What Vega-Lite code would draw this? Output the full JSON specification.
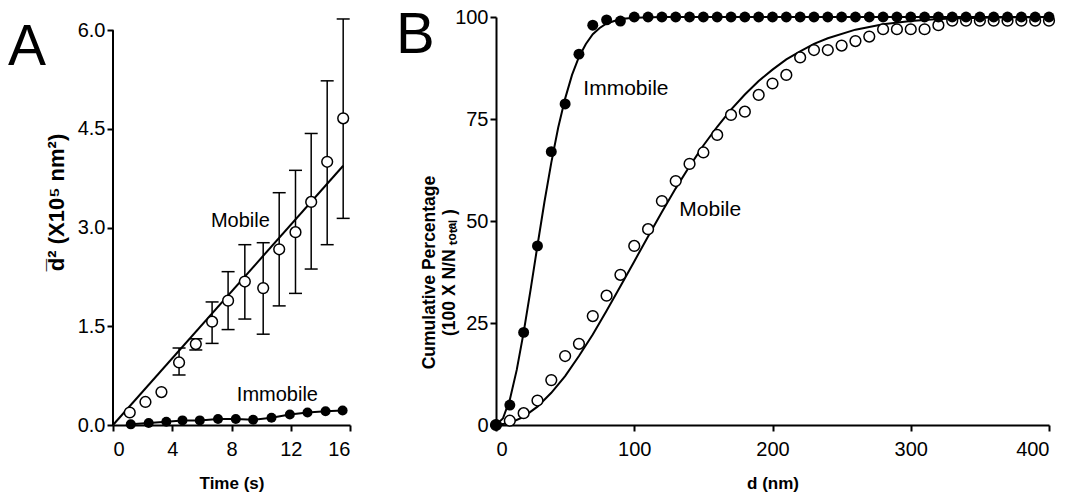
{
  "$schema": "https://vega.github.io/schema/vega-lite/v6.json",
  "background": "white",
  "padding": {"left": 8, "top": 7, "right": 10, "bottom": 5},
  "config": {
    "view": {"stroke": null},
    "font": "Liberation Sans",
    "axis": {"grid": false, "domainColor": "black", "domainWidth": 2, "tickColor": "black", "tickWidth": 2, "tickSize": 6, "labelFont": "Liberation Sans", "labelFontSize": 20, "labelColor": "black", "titleColor": "black", "titleFont": "Liberation Sans", "titleFontWeight": "bold", "labelPadding": 2},
    "text": {"font": "Liberation Sans", "fontSize": 20, "color": "black"},
    "title": {"font": "Liberation Sans", "color": "black"}
  },
  "datasets": {
    "a_axis": [{"t": 0, "v": 0, "v2": 6}],
    "a_mob": [
      {"t": 1.13, "v": 0.19, "lo": null, "hi": null},
      {"t": 2.19, "v": 0.35, "lo": null, "hi": null},
      {"t": 3.27, "v": 0.50, "lo": null, "hi": null},
      {"t": 4.46, "v": 0.95, "lo": 0.76, "hi": 1.17},
      {"t": 5.59, "v": 1.23, "lo": 1.14, "hi": 1.31},
      {"t": 6.69, "v": 1.57, "lo": 1.24, "hi": 1.87},
      {"t": 7.77, "v": 1.89, "lo": 1.45, "hi": 2.33},
      {"t": 8.90, "v": 2.18, "lo": 1.61, "hi": 2.74},
      {"t": 10.14, "v": 2.08, "lo": 1.38, "hi": 2.77},
      {"t": 11.22, "v": 2.67, "lo": 1.81, "hi": 3.53},
      {"t": 12.32, "v": 2.93, "lo": 2.00, "hi": 3.87},
      {"t": 13.38, "v": 3.39, "lo": 2.37, "hi": 4.43},
      {"t": 14.46, "v": 4.00, "lo": 2.74, "hi": 5.23},
      {"t": 15.54, "v": 4.66, "lo": 3.14, "hi": 6.17}
    ],
    "a_imm": [
      {"t": 1.20, "v": 0.01}, {"t": 2.41, "v": 0.03}, {"t": 3.60, "v": 0.05}, {"t": 4.69, "v": 0.07},
      {"t": 5.86, "v": 0.07}, {"t": 7.09, "v": 0.09}, {"t": 8.29, "v": 0.09}, {"t": 9.46, "v": 0.08},
      {"t": 10.70, "v": 0.11}, {"t": 11.94, "v": 0.16}, {"t": 13.13, "v": 0.19}, {"t": 14.35, "v": 0.21},
      {"t": 15.50, "v": 0.22}
    ],
    "a_fit": [{"t": 0, "v": 0}, {"t": 15.54, "v": 3.94}],
    "a_lab": [{"t": 8.6, "v": 3.10, "label": "Mobile"}, {"t": 11.1, "v": 0.46, "label": "Immobile"}],
    "b_mob": [
      {"d": 0, "p": 0}, {"d": 10, "p": 1.05}, {"d": 20, "p": 2.9}, {"d": 30, "p": 6.0}, {"d": 40, "p": 11.0},
      {"d": 50, "p": 16.9}, {"d": 60, "p": 19.9}, {"d": 70, "p": 26.7}, {"d": 80, "p": 31.7}, {"d": 90, "p": 36.8},
      {"d": 100, "p": 43.9}, {"d": 110, "p": 48.0}, {"d": 120, "p": 54.9}, {"d": 130, "p": 59.8}, {"d": 140, "p": 64.0},
      {"d": 150, "p": 66.8}, {"d": 160, "p": 71.1}, {"d": 170, "p": 76.0}, {"d": 180, "p": 76.8}, {"d": 190, "p": 80.9},
      {"d": 200, "p": 83.7}, {"d": 210, "p": 85.8}, {"d": 220, "p": 90.1}, {"d": 230, "p": 91.9}, {"d": 240, "p": 91.9},
      {"d": 250, "p": 93.0}, {"d": 260, "p": 94.1}, {"d": 270, "p": 95.2}, {"d": 280, "p": 97.0}, {"d": 290, "p": 97.0},
      {"d": 300, "p": 97.0}, {"d": 310, "p": 97.0}, {"d": 320, "p": 98.0}, {"d": 330, "p": 99.1}, {"d": 340, "p": 99.1},
      {"d": 350, "p": 99.1}, {"d": 360, "p": 99.1}, {"d": 370, "p": 99.1}, {"d": 380, "p": 99.1}, {"d": 390, "p": 99.1},
      {"d": 400, "p": 99.1}
    ],
    "b_imm": [
      {"d": 0, "p": 0}, {"d": 10, "p": 4.9}, {"d": 20, "p": 22.7}, {"d": 30, "p": 43.9}, {"d": 40, "p": 67.0},
      {"d": 50, "p": 78.7}, {"d": 60, "p": 90.9}, {"d": 70, "p": 98.0}, {"d": 80, "p": 99.3}, {"d": 90, "p": 99.0},
      {"d": 100, "p": 100}, {"d": 110, "p": 100}, {"d": 120, "p": 100}, {"d": 130, "p": 100}, {"d": 140, "p": 100},
      {"d": 150, "p": 100}, {"d": 160, "p": 100}, {"d": 170, "p": 100}, {"d": 180, "p": 100}, {"d": 190, "p": 100},
      {"d": 200, "p": 100}, {"d": 210, "p": 100}, {"d": 220, "p": 100}, {"d": 230, "p": 100}, {"d": 240, "p": 100},
      {"d": 250, "p": 100}, {"d": 260, "p": 100}, {"d": 270, "p": 100}, {"d": 280, "p": 100}, {"d": 290, "p": 100},
      {"d": 300, "p": 100}, {"d": 310, "p": 100}, {"d": 320, "p": 100}, {"d": 330, "p": 100}, {"d": 340, "p": 100},
      {"d": 350, "p": 100}, {"d": 360, "p": 100}, {"d": 370, "p": 100}, {"d": 380, "p": 100}, {"d": 390, "p": 100},
      {"d": 400, "p": 100}
    ],
    "b_mob_fit": [
      {"d": 0, "p": 0}, {"d": 10, "p": 0.5}, {"d": 20, "p": 2.0}, {"d": 30, "p": 4.5}, {"d": 40, "p": 7.9},
      {"d": 50, "p": 12.0}, {"d": 60, "p": 16.9}, {"d": 70, "p": 22.2}, {"d": 80, "p": 28.0}, {"d": 90, "p": 34.0},
      {"d": 100, "p": 40.1}, {"d": 110, "p": 46.2}, {"d": 120, "p": 52.2}, {"d": 130, "p": 58.0}, {"d": 140, "p": 63.4},
      {"d": 150, "p": 68.5}, {"d": 160, "p": 73.1}, {"d": 170, "p": 77.3}, {"d": 180, "p": 81.0}, {"d": 190, "p": 84.3},
      {"d": 200, "p": 87.1}, {"d": 210, "p": 89.6}, {"d": 220, "p": 91.6}, {"d": 230, "p": 93.4}, {"d": 240, "p": 94.8},
      {"d": 260, "p": 96.9}, {"d": 280, "p": 98.2}, {"d": 300, "p": 99.0}, {"d": 320, "p": 99.5}, {"d": 350, "p": 99.8},
      {"d": 400, "p": 100}
    ],
    "b_imm_fit": [
      {"d": 0, "p": 0}, {"d": 5, "p": 1.6}, {"d": 10, "p": 6.2}, {"d": 15, "p": 13.5}, {"d": 20, "p": 22.7},
      {"d": 25, "p": 33.1}, {"d": 30, "p": 44.0}, {"d": 35, "p": 54.6}, {"d": 40, "p": 64.3}, {"d": 45, "p": 72.9},
      {"d": 50, "p": 80.0}, {"d": 55, "p": 85.8}, {"d": 60, "p": 90.2}, {"d": 65, "p": 93.4}, {"d": 70, "p": 95.8},
      {"d": 75, "p": 97.3}, {"d": 80, "p": 98.4}, {"d": 90, "p": 99.5}, {"d": 100, "p": 99.8}, {"d": 120, "p": 100},
      {"d": 400, "p": 100}
    ],
    "b_lab": [{"d": 94, "p": 82.3, "label": "Immobile"}, {"d": 155, "p": 52.6, "label": "Mobile"}]
  },
  "spacing": 146,
  "bounds": "flush",
  "hconcat": [
    {
      "width": 237,
      "height": 408,
      "title": {"text": "A", "fontSize": 57, "fontWeight": "normal", "anchor": "start", "frame": "group", "dx": -105, "dy": 105, "offset": 0, "baseline": "alphabetic", "color": "black"},
      "layer": [
        {
          "data": {"name": "a_axis"},
          "mark": {"type": "rule", "color": "black", "strokeWidth": 2},
          "encoding": {
            "x": {"field": "t", "type": "quantitative", "scale": {"domain": [0, 16], "nice": false}, "axis": {"values": [0, 4, 8, 12, 16], "title": "Time (s)", "titleFontSize": 17, "labelPadding": 8, "titlePadding": 16}},
            "y": {"field": "v", "type": "quantitative", "scale": {"domain": [0, 6.2], "nice": false}, "axis": {"values": [0, 1.5, 3, 4.5, 6], "format": ".1f", "domain": false, "title": "d̅² (X10⁵ nm²)", "titleFontSize": 22, "titleX": -45, "titleY": 185}},
            "y2": {"field": "v2"}
          }
        },
        {
          "data": {"name": "a_mob"},
          "mark": {"type": "rule", "color": "black", "strokeWidth": 1.5},
          "encoding": {
            "x": {"field": "t", "type": "quantitative", "scale": {"domain": [0, 16], "nice": false}},
            "y": {"field": "lo", "type": "quantitative", "scale": {"domain": [0, 6.2], "nice": false}},
            "y2": {"field": "hi"}
          }
        },
        {
          "data": {"name": "a_mob"},
          "mark": {"type": "tick", "orient": "horizontal", "color": "black", "size": 13, "thickness": 1.5, "opacity": 1},
          "encoding": {
            "x": {"field": "t", "type": "quantitative", "scale": {"domain": [0, 16], "nice": false}},
            "y": {"field": "lo", "type": "quantitative", "scale": {"domain": [0, 6.2], "nice": false}}
          }
        },
        {
          "data": {"name": "a_mob"},
          "mark": {"type": "tick", "orient": "horizontal", "color": "black", "size": 13, "thickness": 1.5, "opacity": 1},
          "encoding": {
            "x": {"field": "t", "type": "quantitative", "scale": {"domain": [0, 16], "nice": false}},
            "y": {"field": "hi", "type": "quantitative", "scale": {"domain": [0, 6.2], "nice": false}}
          }
        },
        {
          "data": {"name": "a_fit"},
          "mark": {"type": "line", "color": "black", "strokeWidth": 2},
          "encoding": {
            "x": {"field": "t", "type": "quantitative", "scale": {"domain": [0, 16], "nice": false}},
            "y": {"field": "v", "type": "quantitative", "scale": {"domain": [0, 6.2], "nice": false}}
          }
        },
        {
          "data": {"name": "a_imm"},
          "mark": {"type": "line", "color": "black", "strokeWidth": 2},
          "encoding": {
            "x": {"field": "t", "type": "quantitative", "scale": {"domain": [0, 16], "nice": false}},
            "y": {"field": "v", "type": "quantitative", "scale": {"domain": [0, 6.2], "nice": false}}
          }
        },
        {
          "data": {"name": "a_imm"},
          "mark": {"type": "circle", "color": "black", "size": 100, "opacity": 1},
          "encoding": {
            "x": {"field": "t", "type": "quantitative", "scale": {"domain": [0, 16], "nice": false}},
            "y": {"field": "v", "type": "quantitative", "scale": {"domain": [0, 6.2], "nice": false}}
          }
        },
        {
          "data": {"name": "a_mob"},
          "mark": {"type": "point", "shape": "circle", "filled": true, "fill": "white", "stroke": "black", "strokeWidth": 1.5, "size": 115, "opacity": 1},
          "encoding": {
            "x": {"field": "t", "type": "quantitative", "scale": {"domain": [0, 16], "nice": false}},
            "y": {"field": "v", "type": "quantitative", "scale": {"domain": [0, 6.2], "nice": false}}
          }
        },
        {
          "data": {"name": "a_lab"},
          "mark": {"type": "text", "align": "center", "baseline": "middle", "fontSize": 20, "color": "black"},
          "encoding": {
            "x": {"field": "t", "type": "quantitative", "scale": {"domain": [0, 16], "nice": false}},
            "y": {"field": "v", "type": "quantitative", "scale": {"domain": [0, 6.2], "nice": false}},
            "text": {"field": "label"}
          }
        }
      ]
    },
    {
      "width": 553,
      "height": 408,
      "title": {"text": "B", "fontSize": 58, "fontWeight": "normal", "anchor": "start", "frame": "group", "dx": -100, "dy": 104, "offset": 0, "baseline": "alphabetic", "color": "black"},
      "layer": [
        {
          "data": {"name": "b_mob_fit"},
          "mark": {"type": "line", "color": "black", "strokeWidth": 2},
          "encoding": {
            "x": {"field": "d", "type": "quantitative", "scale": {"domain": [0, 400], "nice": false}, "axis": {"values": [0, 100, 200, 300, 400], "title": "d (nm)", "titleFontSize": 17, "labelPadding": 8, "titlePadding": 16}},
            "y": {"field": "p", "type": "quantitative", "scale": {"domain": [0, 100], "nice": false}, "axis": {"values": [0, 25, 50, 75, 100], "title": ["Cumulative Percentage", "(100 X N/N ₜₒₜₐₗ )"], "titleFontSize": 17.5, "titleLineHeight": 20, "titleX": -58, "titleY": 255}}
          }
        },
        {
          "data": {"name": "b_imm_fit"},
          "mark": {"type": "line", "color": "black", "strokeWidth": 2},
          "encoding": {
            "x": {"field": "d", "type": "quantitative", "scale": {"domain": [0, 400], "nice": false}},
            "y": {"field": "p", "type": "quantitative", "scale": {"domain": [0, 100], "nice": false}}
          }
        },
        {
          "data": {"name": "b_mob"},
          "mark": {"type": "point", "shape": "circle", "filled": true, "fill": "white", "stroke": "black", "strokeWidth": 1.5, "size": 115, "opacity": 1},
          "encoding": {
            "x": {"field": "d", "type": "quantitative", "scale": {"domain": [0, 400], "nice": false}},
            "y": {"field": "p", "type": "quantitative", "scale": {"domain": [0, 100], "nice": false}}
          }
        },
        {
          "data": {"name": "b_imm"},
          "mark": {"type": "circle", "color": "black", "size": 120, "opacity": 1},
          "encoding": {
            "x": {"field": "d", "type": "quantitative", "scale": {"domain": [0, 400], "nice": false}},
            "y": {"field": "p", "type": "quantitative", "scale": {"domain": [0, 100], "nice": false}}
          }
        },
        {
          "data": {"name": "b_lab"},
          "mark": {"type": "text", "align": "center", "baseline": "middle", "fontSize": 21, "color": "black"},
          "encoding": {
            "x": {"field": "d", "type": "quantitative", "scale": {"domain": [0, 400], "nice": false}},
            "y": {"field": "p", "type": "quantitative", "scale": {"domain": [0, 100], "nice": false}},
            "text": {"field": "label"}
          }
        }
      ]
    }
  ]
}
